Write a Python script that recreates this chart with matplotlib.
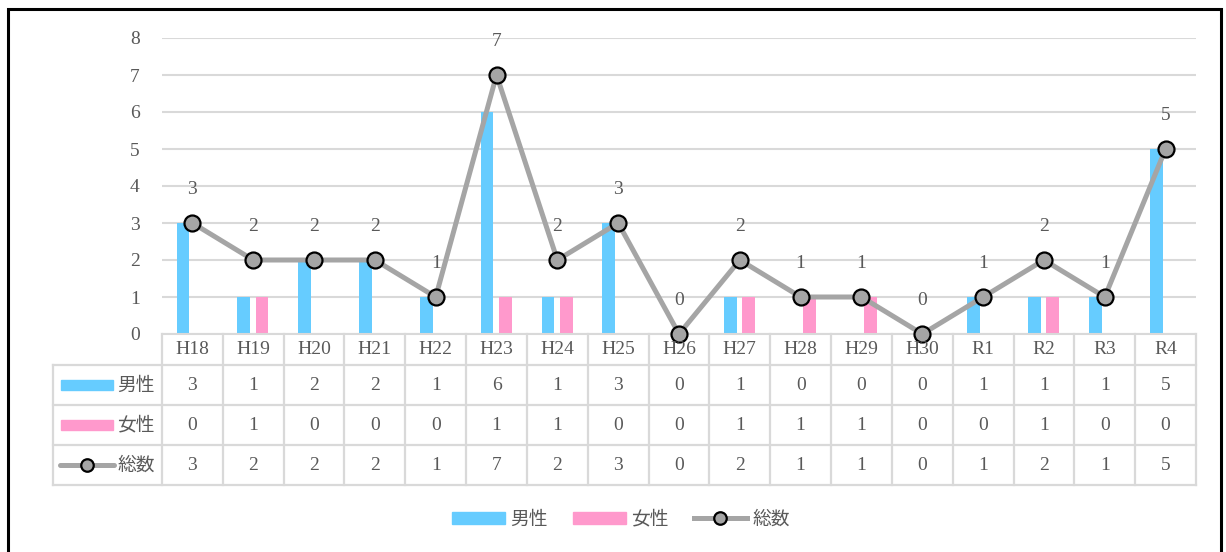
import matplotlib.pyplot as plt
from matplotlib.lines import Line2D
from matplotlib.patches import Rectangle
import numpy as np

plt.rcParams['font.family'] = ['Liberation Serif', 'Noto Sans CJK JP']

years = ["H18", "H19", "H20", "H21", "H22", "H23", "H24", "H25", "H26",
         "H27", "H28", "H29", "H30", "R1", "R2", "R3", "R4"]
male = [3, 1, 2, 2, 1, 6, 1, 3, 0, 1, 0, 0, 0, 1, 1, 1, 5]
female = [0, 1, 0, 0, 0, 1, 1, 0, 0, 1, 1, 1, 0, 0, 1, 0, 0]
total = [3, 2, 2, 2, 1, 7, 2, 3, 0, 2, 1, 1, 0, 1, 2, 1, 5]
row_names = ["男性", "女性", "総数"]

BLUE = "#66CCFF"
PINK = "#FF99CC"
GRAY = "#A5A5A5"
TXT = "#595959"
GRID = "#D9D9D9"
FS = 14
JFS = 13.5

W, H = 1226, 552
fig = plt.figure(figsize=(W / 100, H / 100), dpi=100)

def fx(px):
    return px / W

def fy(py):
    return 1 - py / H

# outer frame
fig.patches.append(Rectangle((fx(8), fy(560)), fx(1221) - fx(8), fy(9) - fy(560),
                             transform=fig.transFigure, fill=False,
                             edgecolor="black", linewidth=2.2))

left, right, top, bottom = 162, 1196, 38, 334
ax = fig.add_axes([fx(left), fy(bottom), fx(right) - fx(left), fy(top) - fy(bottom)])
x = np.arange(len(years))
ax.bar(x - 0.155, male, width=0.21, color=BLUE, zorder=2)
ax.bar(x + 0.145, female, width=0.21, color=PINK, zorder=2)
ax.plot(x, total, color=GRAY, linewidth=3.6, marker="o", markersize=11.5,
        markerfacecolor=GRAY, markeredgecolor="black", markeredgewidth=1.6,
        zorder=4, clip_on=False)
for xi, v in zip(x, total):
    ax.annotate(str(v), (xi, v), xytext=(0, 24), textcoords="offset points",
                ha="center", va="center", fontsize=FS, color=TXT)

ax.set_xlim(-0.5, len(years) - 0.5)
ax.set_ylim(0, 8)
ax.set_yticks(range(0, 9))
ax.yaxis.grid(True, color=GRID, linewidth=1.5, zorder=0)
ax.set_axisbelow(True)
ax.set_xticks([])
ax.tick_params(axis="y", length=0, pad=16, labelsize=FS, labelcolor=TXT)
for s in ["top", "right", "left"]:
    ax.spines[s].set_visible(False)
ax.spines["bottom"].set_color(GRID)
ax.spines["bottom"].set_linewidth(1.5)

# data table
tab_left = 53
row_y = [334, 365, 405, 445, 485]
col_w = (right - left) / len(years)
lines_kw = dict(color=GRID, linewidth=1.6, transform=fig.transFigure)
for yy in row_y[1:]:
    fig.add_artist(Line2D([fx(tab_left), fx(right)], [fy(yy), fy(yy)], **lines_kw))
fig.add_artist(Line2D([fx(tab_left), fx(tab_left)], [fy(row_y[1]), fy(row_y[-1])], **lines_kw))
for i in range(len(years) + 1):
    xx = left + i * col_w
    fig.add_artist(Line2D([fx(xx), fx(xx)], [fy(row_y[0]), fy(row_y[-1])], **lines_kw))

for i, yr in enumerate(years):
    cx = left + (i + 0.5) * col_w
    fig.text(fx(cx), fy((row_y[0] + row_y[1]) / 2), yr, ha="center", va="center",
             fontsize=FS, color=TXT)
    for r, vals in enumerate([male, female, total]):
        fig.text(fx(cx), fy((row_y[r + 1] + row_y[r + 2]) / 2), str(vals[i]),
                 ha="center", va="center", fontsize=FS, color=TXT)

# row keys
for r, name in enumerate(row_names):
    cy = (row_y[r + 1] + row_y[r + 2]) / 2
    if r < 2:
        fig.patches.append(Rectangle((fx(61), fy(cy + 5)), fx(113) - fx(61), fy(cy - 5) - fy(cy + 5),
                                     transform=fig.transFigure,
                                     color=BLUE if r == 0 else PINK))
    else:
        fig.add_artist(Line2D([fx(60), fx(114)], [fy(cy), fy(cy)], color=GRAY,
                              linewidth=3.6, solid_capstyle="round",
                              transform=fig.transFigure))
        fig.add_artist(Line2D([fx(87)], [fy(cy)], marker="o", markersize=9,
                              markerfacecolor=GRAY, markeredgecolor="black",
                              markeredgewidth=1.6, transform=fig.transFigure))
    fig.text(fx(117), fy(cy), name, ha="left", va="center", fontsize=JFS,
             color=TXT, family=['Noto Sans CJK JP'])

# legend
handles = [Rectangle((0, 0), 1, 1, color=BLUE),
           Rectangle((0, 0), 1, 1, color=PINK),
           Line2D([0], [0], color=GRAY, linewidth=3.6, marker="o", markersize=9,
                  markerfacecolor=GRAY, markeredgecolor="black", markeredgewidth=1.6)]
fig.legend(handles, row_names, loc="center", bbox_to_anchor=(fx(621), fy(519)),
           ncol=3, frameon=False, handlelength=2.8, handleheight=0.55,
           columnspacing=1.35, handletextpad=0.3,
           prop={'family': ['Noto Sans CJK JP'], 'size': JFS}, labelcolor=TXT)

fig.savefig("out.png", dpi=100)
